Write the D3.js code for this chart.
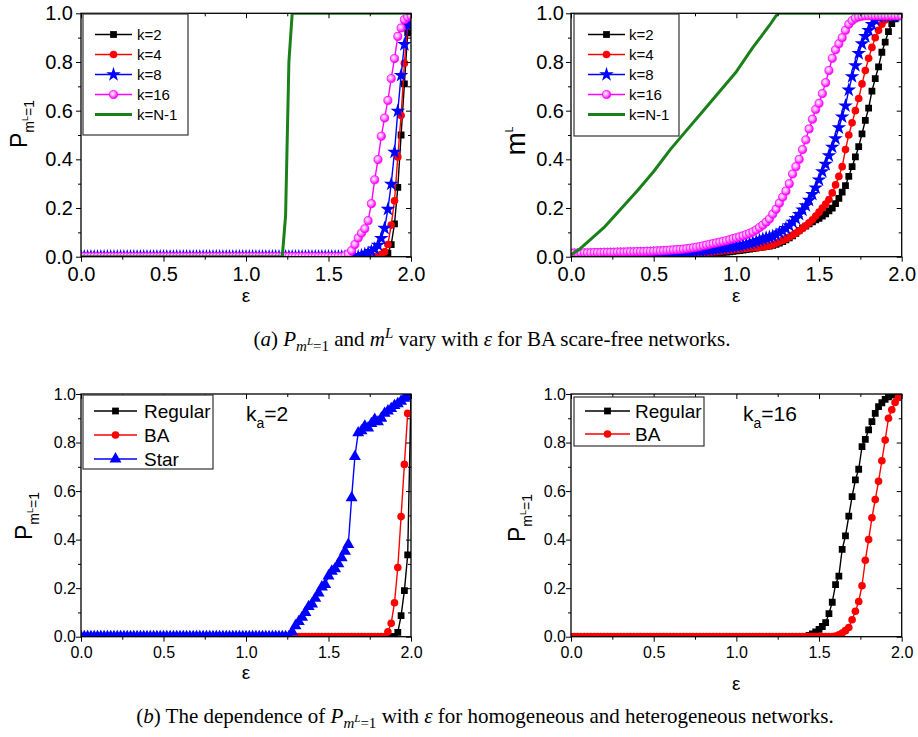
<!DOCTYPE html>
<html>
<head>
<meta charset="utf-8">
<script src="https://cdn.jsdelivr.net/npm/d3@7"></script>
<style>
  body { margin: 0; background: #fff; }
  text { font-family: "Liberation Sans", Arial, sans-serif; }
  .cap { font-family: "Liberation Serif", "Times New Roman", serif; }
</style>
</head>
<body>
<svg id="fig" width="918" height="737"></svg>
<script>
// epsilon grid used by the simulations (step 0.02)
const eps = d3.range(101).map(i => +(i * 0.02).toFixed(2));

// ---- (a) left: P_{m^L=1} vs eps, BA networks ----
// rows: 0.00-0.48 | 0.50-0.98 | 1.00-1.48 | 1.50-1.98 | 2.00
const pK2 = [
  0,0,0,0,0,0,0,0,0,0,0,0,0,0,0,0,0,0,0,0,0,0,0,0,0,
  0,0,0,0,0,0,0,0,0,0,0,0,0,0,0,0,0,0,0,0,0,0,0,0,0,
  0,0,0,0,0,0,0,0,0,0,0,0,0,0,0,0,0,0,0,0,0,0,0,0,0,
  0,0,0,0,0,0,0,0,0,0,0,0,0,0,0,0,0,.005,.015,.05,.135,.285,.5,.71,.92,
  .97];
const pK4 = [
  0,0,0,0,0,0,0,0,0,0,0,0,0,0,0,0,0,0,0,0,0,0,0,0,0,
  0,0,0,0,0,0,0,0,0,0,0,0,0,0,0,0,0,0,0,0,0,0,0,0,0,
  0,0,0,0,0,0,0,0,0,0,0,0,0,0,0,0,0,0,0,0,0,0,0,0,0,
  0,0,0,0,0,0,0,0,0,0,0,0,0,0,0,.005,.01,.02,.05,.13,.23,.41,.58,.795,.95,
  .975];
const pK8 = [
  0,0,0,0,0,0,0,0,0,0,0,0,0,0,0,0,0,0,0,0,0,0,0,0,0,
  0,0,0,0,0,0,0,0,0,0,0,0,0,0,0,0,0,0,0,0,0,0,0,0,0,
  0,0,0,0,0,0,0,0,0,0,0,0,0,0,0,0,0,0,0,0,0,0,0,0,0,
  0,0,0,0,0,0,0,0,0,0,.005,.01,.015,.022,.032,.048,.075,.117,.195,.298,.43,.598,.745,.872,.953,
  .975];
const pK16 = [
  0,0,0,0,0,0,0,0,0,0,0,0,0,0,0,0,0,0,0,0,0,0,0,0,0,
  0,0,0,0,0,0,0,0,0,0,0,0,0,0,0,0,0,0,0,0,0,0,0,0,0,
  0,0,0,0,0,0,0,0,0,0,0,0,0,0,0,0,0,0,0,0,0,0,0,0,0,
  0,0,0,0,0,.004,.011,.025,.05,.077,.097,.115,.148,.218,.316,.399,.495,.57,.642,.732,.814,.905,.94,.974,.984,
  .99];
const pKN1x = [0, 1.22, 1.24, 1.26, 1.28, 2.0];
const pKN1 = [0, 0, 0.17, 0.8, 1, 1];

// ---- (a) right: m^L vs eps, BA networks ----
const mK2 = [
  0,0,0,0,0,0,0,0,0,0,.001,.001,.001,.001,.001,.001,.001,.002,.002,.002,.002,.002,.003,.003,.003,
  .003,.004,.004,.004,.005,.005,.006,.006,.007,.007,.008,.009,.009,.01,.011,.012,.013,.014,.015,.016,.017,.018,.019,.02,.022,
  .024,.025,.027,.029,.031,.033,.035,.037,.039,.041,.044,.047,.051,.056,.062,.069,.077,.086,.096,.108,.118,.126,.135,.143,.151,
  .158,.167,.176,.188,.2,.218,.24,.265,.292,.33,.37,.41,.452,.505,.56,.61,.68,.732,.78,.84,.882,.925,.958,.977,.986,
  .99];
const mK4 = [
  0,0,0,0,0,.001,.001,.001,.001,.001,.002,.002,.002,.002,.003,.003,.003,.003,.004,.004,.004,.005,.005,.005,.006,
  .006,.007,.007,.008,.008,.009,.009,.01,.011,.011,.012,.013,.014,.015,.016,.017,.018,.019,.02,.021,.022,.024,.025,.027,.028,
  .03,.031,.033,.034,.036,.037,.038,.039,.04,.042,.045,.049,.055,.061,.067,.074,.081,.089,.097,.106,.116,.127,.139,.152,.167,
  .183,.2,.216,.235,.262,.295,.33,.37,.44,.5,.55,.6,.65,.71,.765,.815,.86,.9,.93,.955,.972,.983,.988,.99,.99,
  .99];
const mK8 = [
  .004,.004,.005,.005,.005,.005,.006,.006,.006,.007,.007,.007,.008,.008,.008,.009,.009,.009,.01,.01,.01,.011,.011,.012,.012,
  .013,.013,.014,.014,.015,.016,.016,.017,.018,.019,.02,.021,.022,.023,.024,.025,.027,.028,.03,.031,.033,.035,.037,.039,.041,
  .043,.045,.048,.051,.054,.058,.062,.067,.072,.077,.08,.084,.09,.098,.106,.116,.128,.142,.157,.174,.192,.21,.232,.256,.283,
  .316,.35,.38,.415,.45,.485,.53,.575,.62,.685,.74,.785,.835,.875,.905,.93,.955,.972,.985,.99,.99,.99,.99,.99,.99,
  .99];
const mK16 = [
  .015,.015,.015,.016,.016,.016,.016,.017,.017,.017,.018,.018,.018,.018,.019,.019,.019,.02,.02,.02,.021,.021,.021,.022,.022,
  .023,.024,.024,.025,.026,.027,.028,.029,.03,.031,.033,.035,.037,.039,.042,.045,.048,.051,.054,.057,.06,.063,.066,.07,.074,
  .078,.082,.086,.091,.096,.102,.11,.12,.13,.142,.155,.175,.195,.22,.245,.27,.3,.34,.37,.4,.44,.48,.525,.565,.605,
  .63,.67,.715,.765,.815,.85,.875,.9,.93,.955,.97,.98,.985,.988,.99,.99,.99,.99,.99,.99,.99,.99,.99,.99,.99,
  .99];
const mKN1x = [0, 0.05, 0.1, 0.2, 0.3, 0.4, 0.5, 0.6, 0.7, 0.8, 0.9, 1.0, 1.1, 1.2, 1.25, 2.0];
const mKN1 = [0.008, 0.03, 0.06, 0.12, 0.195, 0.27, 0.35, 0.44, 0.52, 0.6, 0.68, 0.76, 0.86, 0.95, 1.0, 1.0];

// ---- (b) left: k_a = 2 ----
const sRegular = [
  0,0,0,0,0,0,0,0,0,0,0,0,0,0,0,0,0,0,0,0,0,0,0,0,0,
  0,0,0,0,0,0,0,0,0,0,0,0,0,0,0,0,0,0,0,0,0,0,0,0,0,
  0,0,0,0,0,0,0,0,0,0,0,0,0,0,0,0,0,0,0,0,0,0,0,0,0,
  0,0,0,0,0,0,0,0,0,0,0,0,0,0,0,0,0,0,0,0,0,.018,.087,.19,.337,
  1.0];
const sBA = [
  0,0,0,0,0,0,0,0,0,0,0,0,0,0,0,0,0,0,0,0,0,0,0,0,0,
  0,0,0,0,0,0,0,0,0,0,0,0,0,0,0,0,0,0,0,0,0,0,0,0,0,
  0,0,0,0,0,0,0,0,0,0,0,0,0,0,0,0,0,0,0,0,0,0,0,0,0,
  0,0,0,0,0,0,0,0,0,0,0,0,0,0,0,0,0,0,.02,.055,.14,.285,.495,.71,.92,
  null];
const sStar = [
  0,0,0,0,0,0,0,0,0,0,0,0,0,0,0,0,0,0,0,0,0,0,0,0,0,
  0,0,0,0,0,0,0,0,0,0,0,0,0,0,0,0,0,0,0,0,0,0,0,0,0,
  0,0,0,0,0,0,0,0,0,0,0,0,0,0,.02,.045,.062,.08,.1,.124,.135,.158,.18,.205,.215,
  .25,.27,.28,.3,.325,.352,.38,.572,.742,.84,.848,.868,.86,.878,.895,.885,.9,.92,.93,.94,.952,.96,.97,.982,.99,
  1.0];

// ---- (b) right: k_a = 16 ----
const hRegular = [
  0,0,0,0,0,0,0,0,0,0,0,0,0,0,0,0,0,0,0,0,0,0,0,0,0,
  0,0,0,0,0,0,0,0,0,0,0,0,0,0,0,0,0,0,0,0,0,0,0,0,0,
  0,0,0,0,0,0,0,0,0,0,0,0,0,0,0,0,0,0,0,0,0,0,.005,.012,.02,
  .03,.042,.058,.095,.142,.215,.25,.36,.415,.497,.577,.646,.69,.783,.813,.852,.886,.92,.948,.964,.978,.988,.995,1,1,
  1];
const hBA = [
  0,0,0,0,0,0,0,0,0,0,0,0,0,0,0,0,0,0,0,0,0,0,0,0,0,
  0,0,0,0,0,0,0,0,0,0,0,0,0,0,0,0,0,0,0,0,0,0,0,0,0,
  0,0,0,0,0,0,0,0,0,0,0,0,0,0,0,0,0,0,0,0,0,0,0,0,0,
  0,0,0,0,0,.003,.008,.015,.025,.038,.07,.105,.145,.21,.315,.4,.49,.565,.64,.725,.81,.9,.935,.965,.985,
  .995];

const xTicks = [0, 0.5, 1, 1.5, 2];
const xMinor = [0.25, 0.75, 1.25, 1.75];
const yTicks = [0, 0.2, 0.4, 0.6, 0.8, 1.0];
const yMinor = [0.1, 0.3, 0.5, 0.7, 0.9];

const svg = d3.select("#fig");
const defs = svg.append("defs");
const sph = defs.append("radialGradient").attr("id", "sphere")
  .attr("cx", "40%").attr("cy", "38%").attr("r", "60%");
sph.append("stop").attr("offset", "0%").attr("stop-color", "#fff4ff");
sph.append("stop").attr("offset", "45%").attr("stop-color", "#ff9cff");
sph.append("stop").attr("offset", "100%").attr("stop-color", "#ff00ff");

const fmt = d3.format(".1f");
const GREEN = "#1a801a";

function marker(sel, type) {
  if (type === "square") sel.attr("d", d3.symbol(d3.symbolSquare, 46)()).attr("fill", "#000");
  else if (type === "circle") sel.attr("d", d3.symbol(d3.symbolCircle, 46)()).attr("fill", "#ff0000");
  else if (type === "star") sel.attr("d", d3.symbol(d3.symbolStar, 66)()).attr("fill", "#0000ff");
  else if (type === "sphere") sel.attr("d", d3.symbol(d3.symbolCircle, 52)()).attr("fill", "url(#sphere)")
    .attr("stroke", "#ff00ff").attr("stroke-width", 0.8);
  else if (type === "triangle") sel.attr("d", d3.symbol(d3.symbolTriangle, 62)()).attr("fill", "#0000ff");
}

function panel(o) {
  const x = d3.scaleLinear([0, 2], [o.x0, o.x1]);
  const y = d3.scaleLinear([0, 1], [o.y1, o.y0]);
  const g = svg.append("g");

  defs.append("clipPath").attr("id", "clip" + o.id).append("rect")
    .attr("x", o.x0).attr("y", o.y0).attr("width", o.x1 - o.x0).attr("height", o.y1 - o.y0);
  const plot = g.append("g").attr("clip-path", `url(#clip${o.id})`);

  const line = d3.line().defined(d => d[1] != null).x(d => x(d[0])).y(d => y(d[1]));
  o.series.forEach(s => {
    const pts = s.x.map((v, i) => [v, s.y[i]]);
    plot.append("path").datum(pts).attr("d", line)
      .attr("fill", "none").attr("stroke", s.color).attr("stroke-width", s.width || 1.4)
      .attr("stroke-linejoin", "round");
    if (s.marker) {
      plot.append("g").selectAll("path").data(pts.filter(d => d[1] != null)).join("path")
        .attr("transform", d => `translate(${x(d[0])},${y(d[1])})`)
        .call(marker, s.marker);
    }
  });

  // axes: outward ticks on bottom/left, inward mirror ticks top/right
  const styleAxis = a => {
    a.select(".domain").remove();
    a.attr("font-family", null).attr("font-size", null);
    a.selectAll("line").attr("stroke", "#000").attr("stroke-width", 1);
    a.selectAll("text").attr("font-size", o.fs).attr("fill", "#000");
  };
  g.append("g").attr("transform", `translate(0,${o.y1})`)
    .call(d3.axisBottom(x).tickValues(xTicks).tickFormat(fmt).tickSize(5).tickPadding(5)).call(styleAxis);
  g.append("g").attr("transform", `translate(0,${o.y1})`)
    .call(d3.axisBottom(x).tickValues(xMinor).tickFormat("").tickSize(3)).call(styleAxis);
  g.append("g").attr("transform", `translate(0,${o.y0})`)
    .call(d3.axisTop(x).tickValues(xTicks).tickFormat("").tickSize(-5)).call(styleAxis);
  g.append("g").attr("transform", `translate(0,${o.y0})`)
    .call(d3.axisTop(x).tickValues(xMinor).tickFormat("").tickSize(-3)).call(styleAxis);
  g.append("g").attr("transform", `translate(${o.x0},0)`)
    .call(d3.axisLeft(y).tickValues(yTicks).tickFormat(fmt).tickSize(5).tickPadding(o.ypad)).call(styleAxis);
  g.append("g").attr("transform", `translate(${o.x0},0)`)
    .call(d3.axisLeft(y).tickValues(yMinor).tickFormat("").tickSize(3)).call(styleAxis);
  g.append("g").attr("transform", `translate(${o.x1},0)`)
    .call(d3.axisRight(y).tickValues(yTicks).tickFormat("").tickSize(-5)).call(styleAxis);
  g.append("g").attr("transform", `translate(${o.x1},0)`)
    .call(d3.axisRight(y).tickValues(yMinor).tickFormat("").tickSize(-3)).call(styleAxis);

  g.append("rect").attr("x", o.x0).attr("y", o.y0)
    .attr("width", o.x1 - o.x0).attr("height", o.y1 - o.y0)
    .attr("fill", "none").attr("stroke", "#000").attr("stroke-width", 1.3);

  // x label
  g.append("text").attr("x", (o.x0 + o.x1) / 2).attr("y", o.xlabY)
    .attr("text-anchor", "middle").attr("font-size", 19).text("ε");

  // legend
  const L = o.legend;
  const lg = g.append("g").attr("transform", `translate(${o.x0 + L.dx},${o.y0 + L.dy})`);
  lg.append("rect").attr("width", L.w).attr("height", L.h)
    .attr("fill", "#fff").attr("stroke", "#333").attr("stroke-width", 1.2);
  o.series.forEach((s, i) => {
    const ry = L.row0 + i * L.step;
    lg.append("line").attr("x1", L.l0).attr("x2", L.l1).attr("y1", ry).attr("y2", ry)
      .attr("stroke", s.color).attr("stroke-width", s.width || 1.4);
    if (s.marker) lg.append("path").attr("transform", `translate(${(L.l0 + L.l1) / 2},${ry})`).call(marker, s.marker);
    lg.append("text").attr("x", L.tx).attr("y", ry + L.fs * 0.36)
      .attr("font-size", L.fs).text(s.name);
  });
  return g;
}

// y-axis label helpers
function pLabel(g, tx, ty) {
  const t = g.append("text").attr("transform", `translate(${tx},${ty}) rotate(-90)`)
    .attr("text-anchor", "middle").attr("font-size", 23);
  t.append("tspan").text("P");
  t.append("tspan").attr("font-size", 14).attr("dy", 7).text("m");
  t.append("tspan").attr("font-size", 9).attr("dy", -6).text("L");
  t.append("tspan").attr("font-size", 14).attr("dy", 6).text("=1");
}
function kaLabel(g, tx, ty, val) {
  const t = g.append("text").attr("x", tx).attr("y", ty).attr("font-size", 21);
  t.append("tspan").text("k");
  t.append("tspan").attr("font-size", 14).attr("dy", 7).text("a");
  t.append("tspan").attr("dy", -7).text("=" + val);
}

const gA = panel({
  id: "A", x0: 81, x1: 411, y0: 13.3, y1: 256.7, fs: 20, ypad: 3, xlabY: 302,
  legend: { dx: 2, dy: 0.7, w: 105, h: 121, row0: 20.5, step: 20, l0: 12, l1: 49, tx: 54, fs: 15 },
  series: [
    { name: "k=2", x: eps, y: pK2, color: "#000", marker: "square" },
    { name: "k=4", x: eps, y: pK4, color: "#ff0000", marker: "circle" },
    { name: "k=8", x: eps, y: pK8, color: "#0000ff", marker: "star" },
    { name: "k=16", x: eps, y: pK16, color: "#ff00ff", marker: "sphere" },
    { name: "k=N-1", x: pKN1x, y: pKN1, color: GREEN, width: 3 }
  ]
});
pLabel(gA, 27, 124);

const gB = panel({
  id: "B", x0: 571, x1: 901.7, y0: 13.3, y1: 256.7, fs: 20, ypad: 2, xlabY: 302,
  legend: { dx: 3, dy: 0.7, w: 105, h: 122, row0: 20.5, step: 20, l0: 14, l1: 51, tx: 55, fs: 15 },
  series: [
    { name: "k=2", x: eps, y: mK2, color: "#000", marker: "square" },
    { name: "k=4", x: eps, y: mK4, color: "#ff0000", marker: "circle" },
    { name: "k=8", x: eps, y: mK8, color: "#0000ff", marker: "star" },
    { name: "k=16", x: eps, y: mK16, color: "#ff00ff", marker: "sphere" },
    { name: "k=N-1", x: mKN1x, y: mKN1, color: GREEN, width: 3 }
  ]
});
{
  const t = gB.append("text").attr("transform", "translate(525,141) rotate(-90)")
    .attr("text-anchor", "middle").attr("font-size", 28);
  t.append("tspan").text("m");
  t.append("tspan").attr("font-size", 10).attr("dy", -12).text("L");
}

const gC = panel({
  id: "C", x0: 81, x1: 411, y0: 394, y1: 636.7, fs: 16, ypad: 0, xlabY: 679,
  legend: { dx: 2, dy: 1, w: 130, h: 74, row0: 16, step: 24, l0: 11, l1: 54, tx: 61, fs: 19 },
  series: [
    { name: "Regular", x: eps, y: sRegular, color: "#000", marker: "square" },
    { name: "BA", x: eps, y: sBA, color: "#ff0000", marker: "circle" },
    { name: "Star", x: eps, y: sStar, color: "#0000ff", marker: "triangle" }
  ]
});
pLabel(gC, 32, 516);
kaLabel(gC, 246, 421, "2");

const gD = panel({
  id: "D", x0: 571, x1: 901.7, y0: 394, y1: 636.7, fs: 16, ypad: 0, xlabY: 690,
  legend: { dx: 3, dy: 3, w: 130, h: 49, row0: 14, step: 23, l0: 11, l1: 56, tx: 61, fs: 19 },
  series: [
    { name: "Regular", x: eps, y: hRegular, color: "#000", marker: "square" },
    { name: "BA", x: eps, y: hBA, color: "#ff0000", marker: "circle" }
  ]
});
pLabel(gD, 525, 518);
kaLabel(gD, 743, 421, "16");

// captions
function caption(y, parts) {
  const t = svg.append("text").attr("class", "cap").attr("x", 0).attr("y", y)
    .attr("font-size", 21).attr("text-anchor", "middle");
  parts.forEach(p => {
    const s = t.append("tspan").text(p.t);
    if (p.i) s.attr("font-style", "italic");
    if (p.fs) s.attr("font-size", p.fs);
    if (p.dy) s.attr("dy", p.dy);
  });
  return t;
}
const sub = [
  { t: "P", i: 1 }, { t: "m", i: 1, fs: 15, dy: 5 }, { t: "L", i: 1, fs: 11, dy: -6 }, { t: "=1", fs: 15, dy: 6 }
];
caption(346, [
  { t: "(" }, { t: "a", i: 1 }, { t: ") " }, ...sub,
  { t: " and ", dy: -5 }, { t: "m", i: 1 }, { t: "L", i: 1, fs: 15, dy: -8 },
  { t: " vary with ", dy: 8 }, { t: "ε", i: 1 }, { t: " for BA scare-free networks." }
]).attr("x", 492);
caption(723, [
  { t: "(" }, { t: "b", i: 1 }, { t: ") The dependence of " }, ...sub,
  { t: " with ", dy: -5 }, { t: "ε", i: 1 }, { t: " for homogeneous and heterogeneous networks." }
]).attr("x", 485);
</script>
</body>
</html>
